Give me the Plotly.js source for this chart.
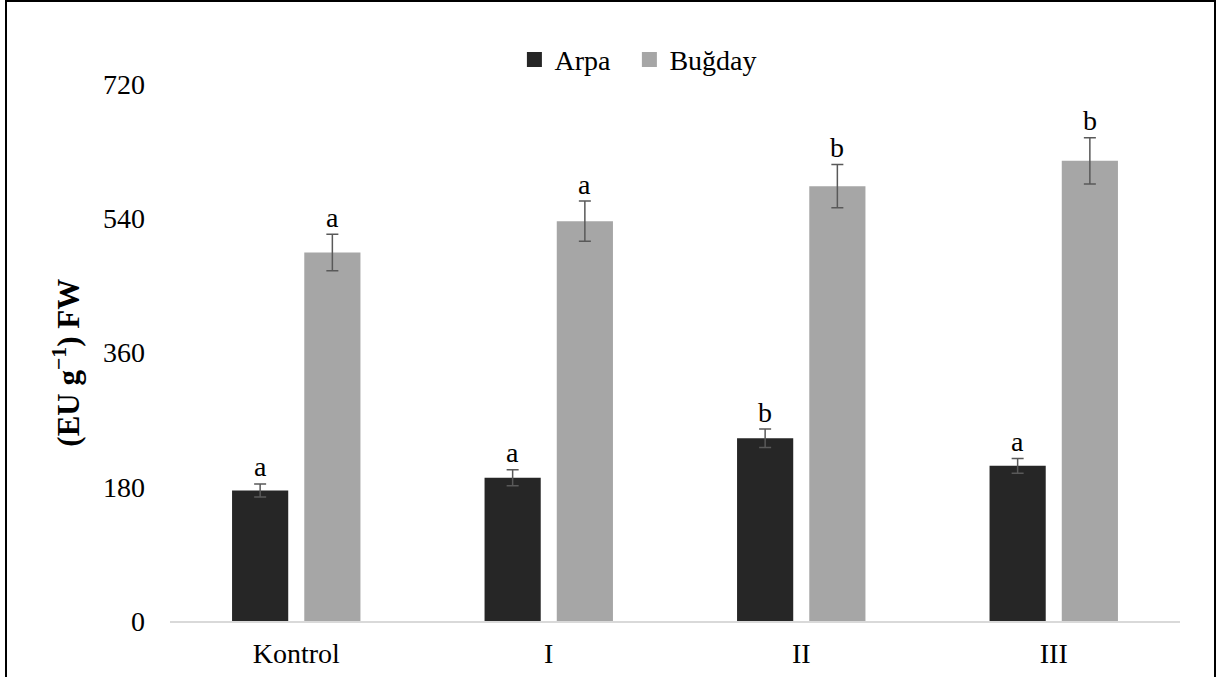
<!DOCTYPE html>
<html>
<head>
<meta charset="utf-8">
<script src="https://cdn.plot.ly/plotly-3.0.1.min.js"></script>
<style>
  html, body { margin: 0; padding: 0; background: #fff; overflow: hidden; }
  #chart { width: 1217px; height: 677px; }
  #frame { position: absolute; left: 5px; top: 0px; width: 1211px; height: 700px;
           border: 2px solid #000; box-sizing: border-box; pointer-events: none; }
</style>
</head>
<body>
<div id="chart"></div>
<div id="frame"></div>
<script>
const categories = ["Kontrol", "I", "II", "III"];
const arpaValues = [175, 192, 245, 208];
const arpaErrors = [8.7, 10.7, 12.3, 10];
const arpaLetters = ["a", "a", "b", "a"];
const bugdayValues = [494, 536, 583, 617];
const bugdayErrors = [24.5, 27, 29, 31];
const bugdayLetters = ["a", "a", "b", "b"];
const yTicks = [0, 180, 360, 540, 720];
const yTitle = "<b>(EU g<sup>−1</sup>) FW</b>";

const FONT = "Times New Roman";

const traces = [
  {
    type: "bar", name: "Arpa", x: categories, y: arpaValues,
    marker: { color: "#262626" }, showlegend: false,
    error_y: { type: "data", array: arpaErrors, visible: true, color: "#595959", thickness: 1.5, width: 6 },
    hoverinfo: "none"
  },
  {
    type: "bar", name: "Buğday", x: categories, y: bugdayValues,
    marker: { color: "#a6a6a6" }, showlegend: false,
    error_y: { type: "data", array: bugdayErrors, visible: true, color: "#595959", thickness: 1.5, width: 6 },
    hoverinfo: "none"
  },
  {
    type: "scatter", mode: "markers", name: "Arpa\u2002", x: [categories[0]], y: [null],
    marker: { symbol: "square", size: 15, color: "#262626" }, hoverinfo: "none"
  },
  {
    type: "scatter", mode: "markers", name: "Buğday", x: [categories[0]], y: [null],
    marker: { symbol: "square", size: 15, color: "#a6a6a6" }, hoverinfo: "none"
  }
];

const annotations = [];
categories.forEach((c, i) => {
  annotations.push({
    x: c, y: arpaValues[i] + arpaErrors[i], xref: "x", yref: "y",
    text: arpaLetters[i], showarrow: false, xshift: -36, yshift: 17,
    yanchor: "middle", font: { family: FONT, size: 28, color: "#000" }
  });
  annotations.push({
    x: c, y: bugdayValues[i] + bugdayErrors[i], xref: "x", yref: "y",
    text: bugdayLetters[i], showarrow: false, xshift: 36, yshift: 17,
    yanchor: "middle", font: { family: FONT, size: 28, color: "#000" }
  });
});
annotations.push({
  xref: "paper", yref: "paper", x: -0.102, y: 0.481, xanchor: "center", yanchor: "middle",
  text: yTitle, textangle: -90, showarrow: false,
  font: { family: FONT, size: 31, color: "#000" }
});

const layout = {
  width: 1217, height: 677,
  margin: { l: 170, r: 37, t: 84, b: 56, autoexpand: false },
  paper_bgcolor: "#fff", plot_bgcolor: "#fff",
  font: { family: FONT, size: 28, color: "#000" },
  barmode: "group", bargap: 0.428, bargroupgap: 0.222,
  showlegend: true,
  legend: {
    orientation: "h", x: 0.341, xanchor: "left", y: 1.045, yanchor: "middle",
    font: { family: FONT, size: 28, color: "#000" }, traceorder: "normal",
    bgcolor: "rgba(0,0,0,0)", itemwidth: 30
  },
  xaxis: {
    type: "category", showgrid: false, zeroline: false,
    showline: true, linecolor: "#d9d9d9", linewidth: 2,
    ticks: "", ticklabelstandoff: 6,
    tickfont: { family: FONT, size: 28, color: "#000" },
    automargin: false, fixedrange: true
  },
  yaxis: {
    range: [0, 720], tickvals: yTicks, ticktext: yTicks.map(String),
    showgrid: false, zeroline: false, showline: false,
    ticks: "", ticklabelstandoff: 24,
    tickfont: { family: FONT, size: 28, color: "#000" },
    automargin: false, fixedrange: true
  },
  annotations: annotations
};

Plotly.newPlot("chart", traces, layout, { displayModeBar: false, staticPlot: true });
</script>
</body>
</html>
